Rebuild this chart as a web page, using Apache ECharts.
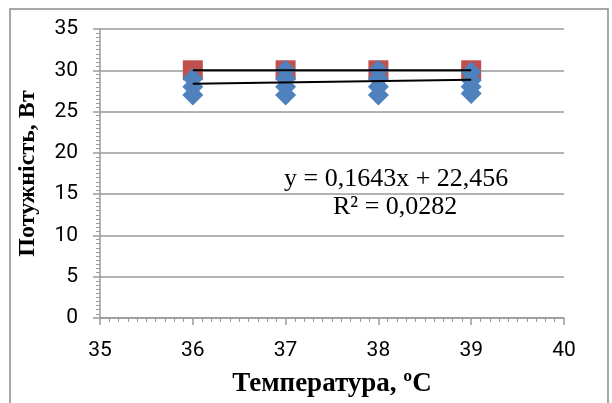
<!DOCTYPE html>
<html>
<head>
<meta charset="utf-8">
<script src="https://cdn.jsdelivr.net/npm/echarts@6/dist/echarts.min.js"></script>
<style>
  html, body { margin: 0; padding: 0; background: #fff; }
  #chart { width: 612px; height: 403px; }
</style>
</head>
<body>
<div id="chart"></div>
<script>
var temps = [36, 37, 38, 39];
// red squares (one per temperature)
var redValues = [30, 30, 30, 30];
// blue diamonds, several readings per temperature
var blueTemps = [36, 36, 36, 37, 37, 37, 37, 38, 38, 38, 38, 39, 39, 39, 39];
var blueValues = [29, 28, 27, 30, 29, 28, 27, 30, 29, 28, 27, 29.8, 28.8, 28, 27.2];
// trend lines
var trendX = [36, 39];
var redTrend = [30, 30];
var blueTrend = [28.37, 28.86];
var xTicks = [35, 36, 37, 38, 39, 40];
var yTicks = [0, 5, 10, 15, 20, 25, 30, 35];

var myChart = echarts.init(document.getElementById('chart'));

function pairs(xs, ys) {
    return xs.map(function (x, i) { return [x, ys[i]]; });
}

var gray = '#9a9a9a';
var labelFont = 'Roboto, "Liberation Sans", sans-serif';
var serif = '"Liberation Serif", "DejaVu Serif", serif';

var option = {
    animation: false,
    backgroundColor: '#fff',
    grid: { left: 100, right: 48, top: 29, bottom: 85, outerBoundsMode: 'none', containLabel: false },
    xAxis: {
        type: 'value',
        min: xTicks[0],
        max: xTicks[xTicks.length - 1],
        interval: 1,
        name: 'Температура, ºC',
        nameLocation: 'middle',
        nameGap: 53,
        nameTextStyle: { fontFamily: serif, fontWeight: 'bold', fontSize: 27, color: '#000' },
        axisLine: { show: true, onZero: false, lineStyle: { color: gray, width: 1.5 } },
        axisTick: { show: true, inside: false, length: 7, lineStyle: { color: gray, width: 1.5 } },
        minorTick: { show: true, splitNumber: 10, length: 4, lineStyle: { color: gray, width: 1 } },
        splitLine: { show: false },
        axisLabel: { fontFamily: labelFont, fontSize: 21, color: '#000', margin: 22 }
    },
    yAxis: {
        type: 'value',
        min: yTicks[0],
        max: yTicks[yTicks.length - 1],
        interval: 5,
        name: 'Потужність, Вт',
        nameLocation: 'middle',
        nameGap: 60,
        nameRotate: 90,
        nameTextStyle: { fontFamily: serif, fontWeight: 'bold', fontSize: 24, color: '#000' },
        axisLine: { show: true, onZero: false, lineStyle: { color: gray, width: 1.5 } },
        axisTick: { show: true, inside: false, length: 7, lineStyle: { color: gray, width: 1.5 } },
        minorTick: { show: true, splitNumber: 10, length: 4, lineStyle: { color: gray, width: 1 } },
        splitLine: { show: true, lineStyle: { color: gray, width: 1.5 } },
        axisLabel: { fontFamily: labelFont, fontSize: 21, color: '#000', margin: 22 }
    },
    graphic: [{
        type: 'rect',
        shape: { x: 10, y: 9, width: 598, height: 420 },
        style: { fill: 'none', stroke: '#8c8c8c', lineWidth: 1.5 },
        silent: true
    }, {
        type: 'text',
        left: 284,
        top: 166,
        style: { text: 'y = 0,1643x + 22,456', font: '26px ' + serif, fill: '#000' },
        z: 10
    }, {
        type: 'text',
        left: 333,
        top: 194,
        style: { text: 'R² = 0,0282', font: '26px ' + serif, fill: '#000' },
        z: 10
    }],
    series: [{
        type: 'scatter',
        symbol: 'rect',
        symbolSize: 20,
        itemStyle: { color: '#c0504d', opacity: 1 },
        data: pairs(temps, redValues),
        z: 2
    }, {
        type: 'scatter',
        symbol: 'diamond',
        symbolSize: [21, 21],
        itemStyle: { color: '#4f81bd', opacity: 1 },
        data: pairs(blueTemps, blueValues),
        z: 3
    }, {
        type: 'line',
        symbol: 'none',
        lineStyle: { color: '#000', width: 2 },
        data: pairs(trendX, redTrend),
        z: 4
    }, {
        type: 'line',
        symbol: 'none',
        lineStyle: { color: '#000', width: 2 },
        data: pairs(trendX, blueTrend),
        z: 4
    }]
};
myChart.setOption(option);
</script>
</body>
</html>
